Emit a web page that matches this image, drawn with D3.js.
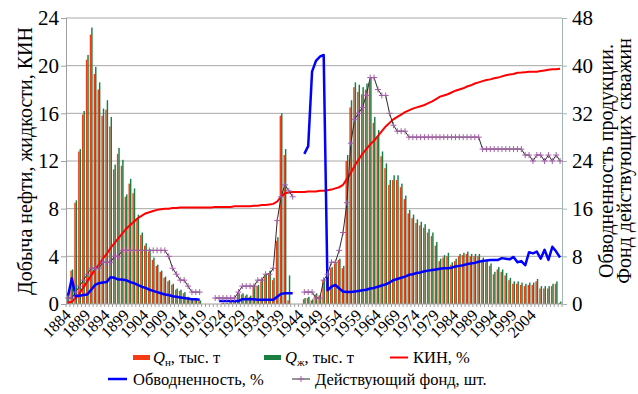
<!DOCTYPE html>
<html>
<head>
<meta charset="utf-8">
<script src="https://cdn.jsdelivr.net/npm/d3@7"></script>
</head>
<body style="margin:0">
<div id="chart"></div>
<script>
// categories: one per year
const years = [
  1884, 1885, 1886, 1887, 1888, 1889, 1890, 1891, 1892, 1893,
  1894, 1895, 1896, 1897, 1898, 1899, 1900, 1901, 1902, 1903,
  1904, 1905, 1906, 1907, 1908, 1909, 1910, 1911, 1912, 1913,
  1914, 1915, 1916, 1917, 1918, 1919, 1920, 1921, 1922, 1923,
  1924, 1925, 1926, 1927, 1928, 1929, 1930, 1931, 1932, 1933,
  1934, 1935, 1936, 1937, 1938, 1939, 1940, 1941, 1942, 1943,
  1944, 1945, 1946, 1947, 1948, 1949, 1950, 1951, 1952, 1953,
  1954, 1955, 1956, 1957, 1958, 1959, 1960, 1961, 1962, 1963,
  1964, 1965, 1966, 1967, 1968, 1969, 1970, 1971, 1972, 1973,
  1974, 1975, 1976, 1977, 1978, 1979, 1980, 1981, 1982, 1983,
  1984, 1985, 1986, 1987, 1988, 1989, 1990, 1991, 1992, 1993,
  1994, 1995, 1996, 1997, 1998, 1999, 2000, 2001, 2002, 2003,
  2004, 2005, 2006, 2007, 2008, 2009, 2010, 2011
];

// labelled years on the category axis
const yearLabels = [
  1884, 1889, 1894, 1899, 1904, 1909, 1914, 1919, 1924, 1929, 1934, 1939, 1944,
  1949, 1954, 1959, 1964, 1969, 1974, 1979, 1984, 1989, 1994, 1999, 2004
];

// Qн, тыс. т (left axis)
const oilProd = [
  0.9, 2.8, 8.5, 12.8, 15.9, 20.5, 22.6, 19.3, 18.0, 15.8,
  16.3, 14.9, 11.3, 12.6, 11.6, 9.0, 10.1, 9.3, 7.2, 5.8,
  4.9, 4.4, 3.7, 3.2, 2.7, 2.2, 1.9, 1.6, 1.2, 1.1,
  0.9, 0.6, 0.45, 0.35, 0.3, 0, 0, 0, 0, 0,
  0.1, 0.1, 0.15, 0.2, 0.8, 0.8, 0.7, 0.6, 1.5, 1.5,
  1.9, 2.3, 2.6, 2.0, 5.3, 15.8, 12.5, 0.3, 0, 0,
  0, 0.4, 0.5, 0.3, 0.8, 0.7, 2.0, 2.5, 3.0, 3.4,
  3.7, 3.0, 12.0, 16.5, 18.2, 17.8, 17.6, 18.0, 18.6, 15.2,
  14.0, 12.4, 11.4, 10.0, 10.4, 10.4, 9.8, 8.8, 7.6, 7.2,
  6.8, 6.6, 6.4, 6.0, 5.7, 4.9, 3.6, 3.9, 4.0, 3.3,
  3.6, 4.0, 4.1, 4.2, 4.0, 4.0, 4.0, 3.7, 3.5, 3.2,
  2.5, 2.9, 2.7, 2.4, 2.0, 1.7, 1.7, 1.6, 1.5, 1.6,
  1.6, 1.9, 1.3, 1.3, 1.3, 1.5, 1.7, 0.1
];

// Qж, тыс. т (left axis)
const liquidProd = [
  1.0, 2.9, 8.7, 13.0, 16.2, 20.9, 23.2, 19.9, 18.6, 16.4,
  17.1, 15.7, 11.7, 13.1, 12.1, 9.2, 10.5, 9.7, 7.5, 6.0,
  5.1, 4.6, 3.9, 3.3, 2.8, 2.3, 2.0, 1.7, 1.3, 1.2,
  1.0, 0.6, 0.5, 0.4, 0.3, 0, 0, 0, 0, 0,
  0.1, 0.1, 0.15, 0.2, 0.9, 0.9, 0.8, 0.7, 1.6, 1.6,
  2.1, 2.5, 2.8, 2.2, 5.6, 16.0, 13.0, 2.4, 0, 0,
  0, 0.5, 0.6, 0.4, 0.9, 0.8, 2.1, 2.6, 3.1, 3.5,
  3.8, 3.2, 12.5, 17.1, 18.6, 18.4, 18.2, 18.5, 19.0, 15.7,
  14.6, 12.8, 11.8, 10.4, 10.8, 10.8, 10.1, 9.1, 7.9, 7.5,
  7.1, 6.9, 6.7, 6.3, 6.0, 5.2, 3.8, 4.1, 4.3, 3.5,
  3.8, 4.2, 4.3, 4.4, 4.2, 4.2, 4.2, 3.9, 3.7, 3.4,
  2.7, 3.1, 2.9, 2.6, 2.2, 1.9, 1.9, 1.8, 1.7, 1.8,
  1.8, 2.1, 1.5, 1.5, 1.5, 1.7, 1.9, 0.2
];

// КИН, % (left axis)
const kin = [
  0.1, 0.2, 0.5, 0.9, 1.4, 1.9, 2.4, 2.9, 3.3, 3.8,
  4.2, 4.7, 5.1, 5.5, 5.9, 6.3, 6.6, 6.9, 7.2, 7.4,
  7.6, 7.7, 7.8, 7.9, 7.95, 8.0, 8.0, 8.05, 8.05, 8.1,
  8.1, 8.1, 8.1, 8.1, 8.1, 8.1, 8.1, 8.1, 8.15, 8.15,
  8.15, 8.15, 8.15, 8.2, 8.2, 8.2, 8.2, 8.2, 8.25, 8.25,
  8.3, 8.3, 8.35, 8.4, 8.6, 9.0, 9.3, 9.35, 9.4, 9.4,
  9.4, 9.4, 9.45, 9.45, 9.45, 9.5, 9.5, 9.55, 9.6, 9.7,
  9.8, 10.0, 10.5, 11.0, 11.6, 12.1, 12.6, 13.0, 13.4, 13.7,
  14.1, 14.5, 14.9, 15.2, 15.5, 15.7, 15.9, 16.1, 16.25, 16.4,
  16.5, 16.6, 16.7, 16.85, 17.0, 17.2, 17.4, 17.5, 17.6, 17.75,
  17.9, 18.0, 18.1, 18.25, 18.35, 18.5, 18.6, 18.7, 18.8, 18.85,
  18.95, 19.0, 19.1, 19.2, 19.25, 19.3, 19.4, 19.42, 19.45, 19.48,
  19.5, 19.5, 19.55, 19.6, 19.65, 19.7, 19.7, 19.75
];

// Обводненность, % (right axis)
const waterCut = [
  1.3, 4.3, 1.3, 1.4, 1.5, 1.6, 2.4, 3.2, 3.5, 3.6,
  3.7, 4.5, 4.4, 4.1, 4.1, 4.0, 3.7, 3.5, 3.2, 2.9,
  2.7, 2.4, 2.2, 2.0, 1.8, 1.6, 1.5, 1.3, 1.2, 1.1,
  1.0, 0.9, 0.8, 0.8, 0.7, null, null, null, null, 0.5,
  0.5, 0.5, 0.5, 0.5, 0.5, 0.8, 0.8, 0.8, 0.8, 0.7,
  0.7, 0.7, 0.7, 0.7, 1.2, 1.7, 1.8, 1.8, 1.8, null,
  null, 25.2, 26.5, 39.0, 40.8, 41.5, 41.8, 2.3, 2.9, 3.2,
  2.6, 2.1, 2.0, 2.0, 2.1, 2.2, 2.3, 2.4, 2.6, 2.7,
  2.9, 3.1, 3.3, 3.6, 4.0, 4.2, 4.4, 4.6, 4.9, 5.0,
  5.2, 5.3, 5.5, 5.6, 5.7, 5.8, 5.9, 6.0, 6.0, 6.1,
  6.3, 6.4, 6.5, 6.7, 6.8, 6.9, 7.1, 7.2, 7.3, 7.4,
  7.4, 7.4, 7.7, 7.6, 7.5, 7.9, 7.0, 7.2, 6.5, 8.7,
  8.5, 8.8, 7.6, 9.1, 7.4, 9.6, 8.8, 7.8
];

// Действующий фонд, шт. (right axis)
const activeWells = [
  1, 1, 2, 3, 4, 5, 6, 6, 6, 7,
  7, 7, 8, 8, 9, 9, 9, 9, 9, 9,
  9, 9, 9, 9, 9, 9, 8, 6, 5, 4,
  4, 3, 2, 2, 2, null, null, null, 1, 1,
  1, 1, 1, 1, 2, 3, 3, 3, 3, 4,
  4, 5, 5, 6, 14, 18, 20, 19, 18, null,
  null, 2, 2, 2, 1, 1, 4, 5, 7, 7,
  9, 12, 17, 27, 31, 32, 33, 35, 38, 38,
  36, 35, 35, 32, 30, 29, 29, 29, 28, 28,
  28, 28, 28, 28, 28, 28, 28, 28, 28, 28,
  28, 28, 28, 28, 28, 28, 28, 26, 26, 26,
  26, 26, 26, 26, 26, 26, 26, 26, 25, 25,
  24, 25, 25, 24, 25, 24, 25, 24
];

const leftTicks = [0, 4, 8, 12, 16, 20, 24];
const rightTicks = [0, 8, 16, 24, 32, 40, 48];

const FONT = '"Liberation Serif"';

const margin = { top: 18, right: 76, bottom: 90, left: 66 };
const width = 638 - margin.left - margin.right;
const height = 394 - margin.top - margin.bottom;

const svg = d3
  .select('#chart')
  .append('svg')
  .attr('width', 638)
  .attr('height', 394);

const g = svg
  .append('g')
  .attr('transform', 'translate(' + margin.left + ',' + margin.top + ')');

// Scales
const x0 = d3.scaleBand().domain(years).range([0, width]).paddingInner(0.26).paddingOuter(0.13);
const x1 = d3.scaleBand().domain(['oil', 'liq']).range([0, x0.bandwidth()]);
const cx = (yr) => x0(yr) + x0.bandwidth() / 2;
const yLeft = d3.scaleLinear().domain([0, 24]).range([height, 0]);
const yRight = d3.scaleLinear().domain([0, 48]).range([height, 0]);

// Gridlines
g.append('g')
  .selectAll('line')
  .data(leftTicks.slice(1))
  .enter()
  .append('line')
  .attr('x1', 0)
  .attr('x2', width)
  .attr('y1', (d) => yLeft(d))
  .attr('y2', (d) => yLeft(d))
  .attr('stroke', '#a8a8a8')
  .attr('stroke-width', 1);

// Bars
const rows = years.map((yr, i) => ({ yr, oil: oilProd[i], liq: liquidProd[i] }));
const groups = g
  .append('g')
  .selectAll('g')
  .data(rows)
  .enter()
  .append('g')
  .attr('transform', (d) => 'translate(' + x0(d.yr) + ',0)');

groups
  .append('rect')
  .attr('x', x1('oil'))
  .attr('width', x1.bandwidth())
  .attr('y', (d) => yLeft(d.oil))
  .attr('height', (d) => height - yLeft(d.oil))
  .attr('fill', '#f53a14');

groups
  .append('rect')
  .attr('x', x1('liq'))
  .attr('width', x1.bandwidth())
  .attr('y', (d) => yLeft(d.liq))
  .attr('height', (d) => height - yLeft(d.liq))
  .attr('fill', '#1a7d42');

// Axes
const xAxisG = g.append('g').attr('transform', 'translate(0,' + height + ')');
xAxisG
  .append('line')
  .attr('x1', 0)
  .attr('x2', width)
  .attr('stroke', '#a0a0a0');
xAxisG
  .selectAll('.cat-tick')
  .data(years.concat([null]))
  .enter()
  .append('line')
  .attr('class', 'cat-tick')
  .attr('x1', (d, i) => (i < years.length ? x0(d) - x0.step() * x0.paddingInner() / 2 : width))
  .attr('x2', (d, i) => (i < years.length ? x0(d) - x0.step() * x0.paddingInner() / 2 : width))
  .attr('y1', 0)
  .attr('y2', 3)
  .attr('stroke', '#a0a0a0');
xAxisG
  .selectAll('text')
  .data(yearLabels)
  .enter()
  .append('text')
  .attr('transform', (d) => 'translate(' + (cx(d) + 4) + ',12) rotate(-45)')
  .attr('text-anchor', 'end')
  .style('font-family', FONT)
  .style('font-size', '16px')
  .text((d) => d);

const leftAxis = g
  .append('g')
  .call(d3.axisLeft(yLeft).tickValues(leftTicks).tickSize(5).tickPadding(2));
leftAxis.attr('font-family', null);
leftAxis.select('.domain').attr('stroke', '#a0a0a0');
leftAxis.selectAll('line').attr('stroke', '#a0a0a0');
leftAxis.selectAll('text').style('font-family', FONT).style('font-size', '21px');

const rightAxis = g
  .append('g')
  .attr('transform', 'translate(' + width + ',0)')
  .call(d3.axisRight(yRight).tickValues(rightTicks).tickSize(5).tickPadding(5));
rightAxis.attr('font-family', null);
rightAxis.select('.domain').attr('stroke', '#9fb8b4');
rightAxis.selectAll('line').attr('stroke', '#9fb8b4');
rightAxis.selectAll('text').style('font-family', FONT).style('font-size', '21px');

// Lines
const kinLine = d3
  .line()
  .defined((d) => d.v != null)
  .x((d) => cx(d.yr))
  .y((d) => yLeft(d.v));
const rightLine = d3
  .line()
  .defined((d) => d.v != null)
  .x((d) => cx(d.yr))
  .y((d) => yRight(d.v));

g.append('path')
  .datum(years.map((yr, i) => ({ yr, v: kin[i] })))
  .attr('fill', 'none')
  .attr('stroke', '#ff0000')
  .attr('stroke-width', 2)
  .attr('d', kinLine);

g.append('path')
  .datum(years.map((yr, i) => ({ yr, v: waterCut[i] })))
  .attr('fill', 'none')
  .attr('stroke', '#0000ff')
  .attr('stroke-width', 2.5)
  .attr('stroke-linejoin', 'round')
  .attr('d', rightLine);

const wellData = years.map((yr, i) => ({ yr, v: activeWells[i] }));
g.append('path')
  .datum(wellData)
  .attr('fill', 'none')
  .attr('stroke', '#2a2a2a')
  .attr('stroke-width', 1)
  .attr('d', rightLine);

g.append('g')
  .selectAll('path')
  .data(wellData.filter((d) => d.v != null))
  .enter()
  .append('path')
  .attr('transform', (d) => 'translate(' + cx(d.yr) + ',' + yRight(d.v) + ')')
  .attr('d', 'M-3,0H3M0,-3V3')
  .attr('stroke', '#a45fa8')
  .attr('stroke-width', 1);

// Axis titles
function title(x, label) {
  svg
    .append('text')
    .attr('transform', 'translate(' + x + ',' + (margin.top + height / 2) + ') rotate(-90)')
    .attr('text-anchor', 'middle')
    .style('font-family', FONT)
    .style('font-size', '20px')
    .text(label);
}
title(32, 'Добыча нефти, жидкости, КИН');
title(613, 'Обводненность продукции.');
title(631, 'Фонд действующих скважин');

// Legend
const legend = svg.append('g');

function legendText(x, y) {
  return legend
    .append('text')
    .attr('x', x)
    .attr('y', y)
    .style('font-family', FONT)
    .style('font-size', '16.5px');
}

function qLabel(x, y, sub) {
  const t = legendText(x, y);
  t.append('tspan').style('font-style', 'italic').text('Q');
  t.append('tspan').attr('dy', 3).style('font-size', '11px').text(sub);
  t.append('tspan').attr('dy', -3).text(', тыс. т');
}

legend.append('rect').attr('x', 133).attr('y', 355).attr('width', 17).attr('height', 5).attr('fill', '#f53a14');
qLabel(153, 363, 'н');
legend.append('rect').attr('x', 264).attr('y', 355).attr('width', 17).attr('height', 5).attr('fill', '#1a7d42');
qLabel(285, 363, 'ж');
legend.append('line').attr('x1', 390).attr('x2', 408).attr('y1', 357.5).attr('y2', 357.5).attr('stroke', '#ff0000').attr('stroke-width', 2);
legendText(413, 363).text('КИН, %');

legend.append('line').attr('x1', 108).attr('x2', 127).attr('y1', 379).attr('y2', 379).attr('stroke', '#0000ff').attr('stroke-width', 2.5);
legendText(133, 385).text('Обводненность, %');
legend.append('line').attr('x1', 292).attr('x2', 310).attr('y1', 379).attr('y2', 379).attr('stroke', '#2a2a2a').attr('stroke-width', 1);
legend.append('path').attr('transform', 'translate(301,379)').attr('d', 'M-3,0H3M0,-3V3').attr('stroke', '#a45fa8');
legendText(315, 385).text('Действующий фонд, шт.');
</script>
</body>
</html>
